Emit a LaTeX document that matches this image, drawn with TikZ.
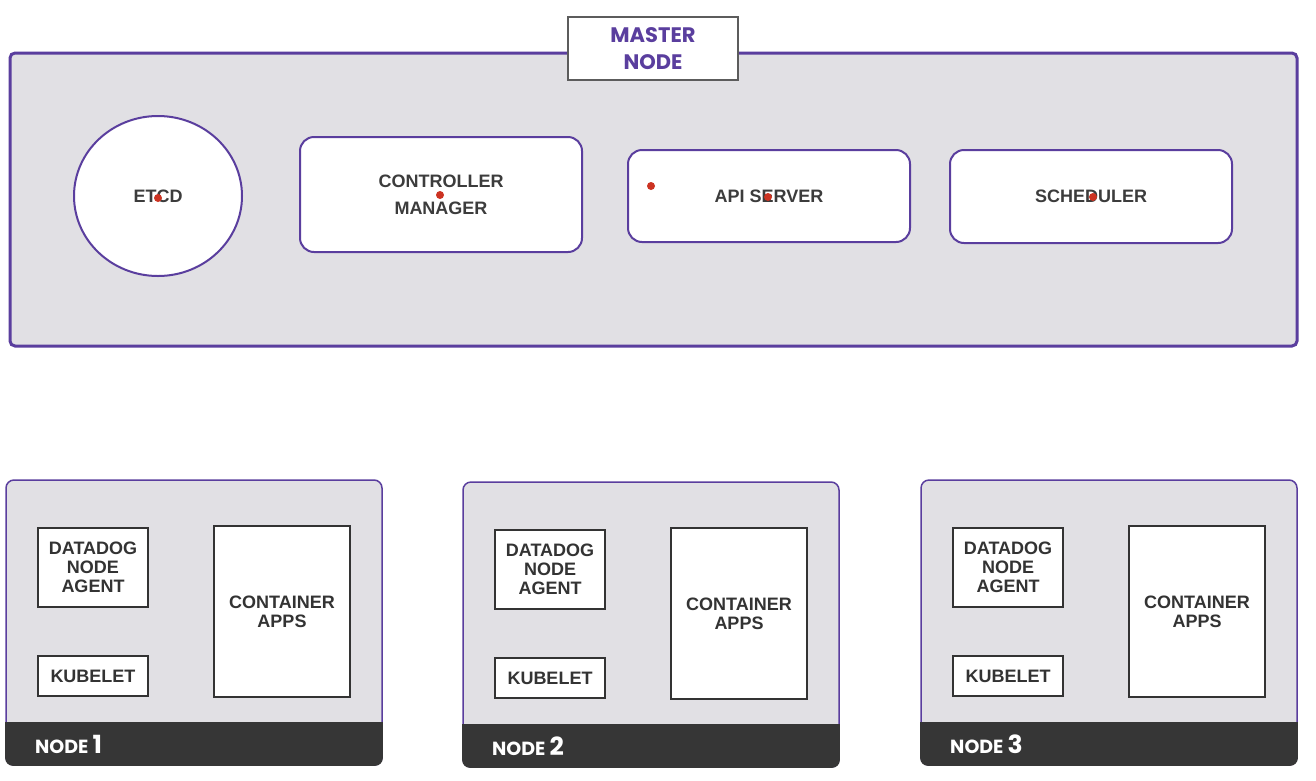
\documentclass[tikz,border=0pt]{standalone}
\usepackage{fontspec}
\setmainfont{Liberation Sans}
\newfontfamily\popp{Poppins}
\usetikzlibrary{shapes.geometric}
\definecolor{purp}{HTML}{5A3E9E}
\definecolor{panel}{HTML}{E1E0E4}
\definecolor{band}{HTML}{363636}
\definecolor{txt}{HTML}{333333}
\definecolor{mtxt}{HTML}{3C3C3C}
\definecolor{dotc}{HTML}{CC3322}
\tikzset{
  mbox/.style={draw=purp, line width=2pt, fill=white, rounded corners=14pt, inner sep=0pt,
    font=\bfseries\fontsize{18}{27}\selectfont, text=mtxt, align=center},
  ibox/.style={draw=txt, line width=1.8pt, fill=white, inner sep=0pt,
    font=\bfseries\fontsize{18}{19}\selectfont, text=txt, align=center},
  rdot/.style={circle, fill=dotc, inner sep=0pt, minimum size=8pt},
}
\begin{document}
\begin{tikzpicture}[x=1pt,y=-1pt]
\useasboundingbox[fill=white] (0,0) rectangle (1316,780);
% master
\draw[draw=purp, line width=3pt, fill=panel, rounded corners=5pt] (10,53) rectangle (1297,346);
\node[draw=txt!80, line width=1.5pt, fill=white, minimum width=170pt, minimum height=63pt,
  inner sep=0pt, text=purp, align=center, font=\popp\bfseries\fontsize{21}{27}\selectfont]
  (master) at (653,48.5) {MASTER\\NODE};
\node[ellipse, draw=purp, line width=2pt, fill=white, minimum width=168pt, minimum height=160pt,
  inner sep=0pt, text=mtxt, font=\bfseries\fontsize{18}{27}\selectfont] (etcd) at (158,196) {ETCD};
\node[mbox, minimum width=282pt, minimum height=115pt] (cm) at (441,194.5) {CONTROLLER\\MANAGER};
\node[mbox, minimum width=282pt, minimum height=92pt] (api) at (769,196) {API SERVER};
\node[mbox, minimum width=282pt, minimum height=93pt] (sch) at (1091,196.5) {SCHEDULER};
\node[rdot] (d1) at (158,198) {};
\node[rdot] (d2) at (440,195) {};
\node[rdot] (d3) at (651,186) {};
\node[rdot] (d4) at (768,197) {};
\node[rdot] (d5) at (1093,197) {};
% worker nodes
\foreach \xo/\yo/\n in {6/480/1, 463/482/2, 921/480/3}{
  \begin{scope}[shift={(\xo,\yo)}]
    \draw[draw=purp, line width=1.5pt, fill=panel, rounded corners=8pt] (0,0) rectangle (376,285);
    \fill[band, rounded corners=8pt] (-0.9,242) rectangle (376.9,285.9);
    \fill[band] (-0.9,242) rectangle (376.9,260);
    \node[ibox, minimum width=110pt, minimum height=79pt] (dd\n) at (87,87.5) {DATADOG\\NODE\\AGENT};
    \node[ibox, minimum width=110pt, minimum height=40pt] (kb\n) at (87,196) {KUBELET};
    \node[ibox, minimum width=136pt, minimum height=171pt] (ca\n) at (276,131.5) {CONTAINER\\APPS};
    \node[anchor=base west, text=white, inner sep=0pt] (lb\n) at (29,273)
      {\popp\bfseries\fontsize{19}{19}\selectfont NODE \fontsize{25}{25}\selectfont\n};
  \end{scope}
}
\end{tikzpicture}
\end{document}
